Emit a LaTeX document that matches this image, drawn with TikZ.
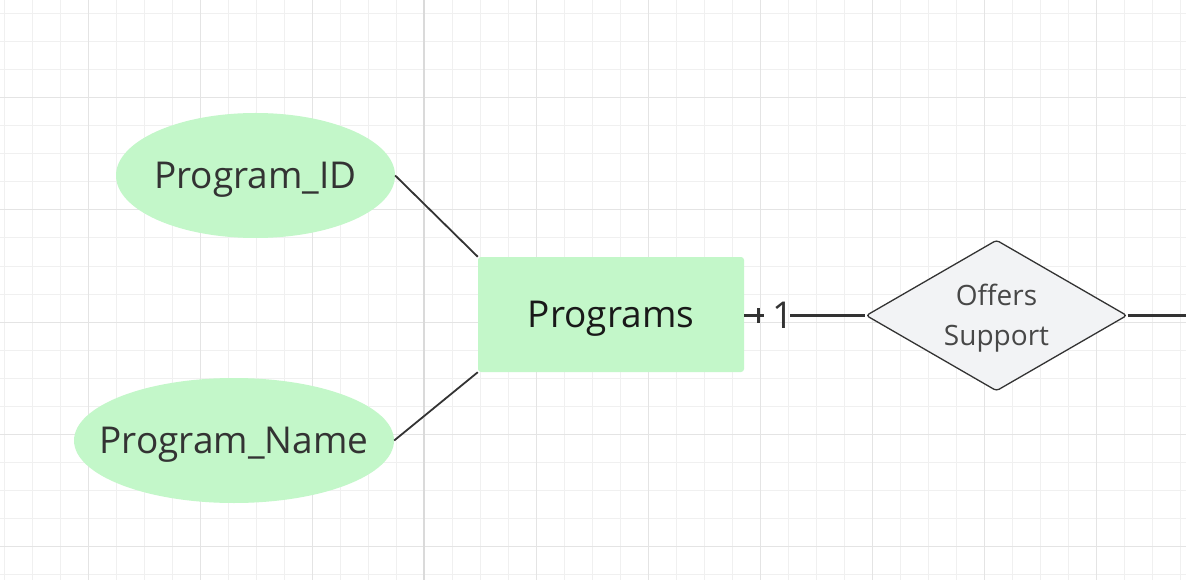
\documentclass[tikz,border=0pt]{standalone}
\usepackage{fontspec}
\setmainfont{Open Sans}
\usetikzlibrary{shapes.geometric}
\definecolor{entgreen}{HTML}{C3F7C9}
\definecolor{relgray}{HTML}{F2F3F5}
\definecolor{ink}{HTML}{333333}
\definecolor{gridminor}{HTML}{F0F0F0}
\definecolor{gridmajor}{HTML}{E4E4E4}
\definecolor{gridaxis}{HTML}{DADADA}
\tikzset{
  attr/.style={ellipse, fill=entgreen, draw=none, inner sep=0pt},
  attrtext/.style={font=\fontsize{37}{40}\selectfont, text=ink, text depth=0pt, inner sep=0pt},
  entity/.style={rectangle, fill=entgreen, draw=none, rounded corners=3pt,
    minimum width=266pt, minimum height=115pt, inner sep=0pt,
    font=\fontsize{37}{40}\selectfont, text=black!90, text depth=0pt},
  relation/.style={diamond, fill=relgray, draw=ink, line width=1.3pt, rounded corners=3pt,
    minimum width=261pt, minimum height=151pt, aspect=1.73, inner sep=0pt},
  reltext/.style={font=\fontsize{28}{40}\selectfont, text=ink!90, align=center, inner sep=0pt},
  thinlink/.style={draw=ink, line width=1.8pt},
  thicklink/.style={draw=ink, line width=3.4pt},
  cardtext/.style={font=\fontsize{37}{40}\selectfont, text=ink, text depth=0pt, inner sep=0pt}
}
\begin{document}
\begin{tikzpicture}[x=1pt,y=-1pt]
\useasboundingbox (0,0) rectangle (1186,580);
\fill[white] (0,0) rectangle (1186,580);
% grid
\foreach \x in {4,32,...,1186} \draw[gridminor, line width=1pt] (\x,0) -- (\x,580);
\foreach \y in {14,42,...,580} \draw[gridminor, line width=1pt] (0,\y) -- (1186,\y);
\foreach \x in {88,200,...,1186} \draw[gridmajor, line width=1pt] (\x,0) -- (\x,580);
\foreach \y in {98,210,...,580} \draw[gridmajor, line width=1pt] (0,\y) -- (1186,\y);
\draw[gridaxis, line width=1.2pt] (424,0) -- (424,580);
% entity and attributes
\node[entity] (prog) at (611,314.5) {Programs};
\node[attr, minimum width=279pt, minimum height=125pt] (pid) at (255.5,175.5) {};
\node[attrtext] (pidtext) at (pid.center) {Program\_ID};
\node[attr, minimum width=320pt, minimum height=125pt] (pname) at (234,440.5) {};
\node[attrtext] (pnametext) at (pname.center) {Program\_Name};
\draw[thinlink] (pid.east) -- (prog.north west);
\draw[thinlink] (pname.east) -- (prog.south west);
% relationship
\node[relation] (rel) at (996.5,315.5) {};
\node[reltext, yshift=-3pt] (reltxt) at (rel.center) {Offers\\Support};
% cardinality
\coordinate (c1) at (764,315.5);
\coordinate (tka) at (758,308);
\coordinate (tkb) at (758,323);
\node[cardtext] (one) at (783,315.5) {1};
\coordinate (c2) at (790,315.5);
\draw[thicklink] (prog.east |- rel.west) -- (c1);
\draw[draw=ink, line width=3pt] (tka) -- (tkb);
\draw[thicklink] (c2) -- (rel.west);
\coordinate (rend) at (1190,315.5);
\draw[thicklink] (rel.east) -- (rend);
\end{tikzpicture}
\end{document}
